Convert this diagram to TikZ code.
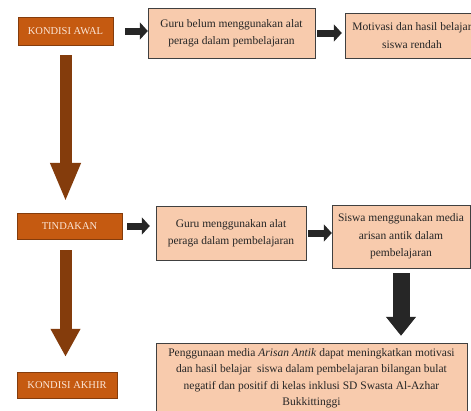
\documentclass[tikz,border=0pt]{standalone}
\usepackage{fontspec}
\setmainfont{Liberation Serif}
\usetikzlibrary{arrows.meta}
\definecolor{kotakoranye}{HTML}{C55A11}
\definecolor{garisoranye}{HTML}{843C0C}
\definecolor{kotakpeach}{HTML}{F8CBAD}
\definecolor{hurufterang}{HTML}{FBE5D6}
\definecolor{panahcoklat}{HTML}{843C0C}
\definecolor{panahhitam}{HTML}{262626}

\begin{document}
\begin{tikzpicture}[x=1pt, y=-1pt,
    kondisi/.style={draw=garisoranye, fill=kotakoranye, text=hurufterang, inner sep=0pt, font=\fontsize{10.5}{12}\selectfont},
    isi/.style={draw=black!75, fill=kotakpeach, text=black!85, align=center, inner sep=0pt, font=\fontsize{11.5}{17.5}\selectfont},
    panah/.style={panahhitam, line width=7pt, -{Triangle[width=17pt,length=8pt]}},
    panahbesar/.style={panahhitam, line width=17pt, -{Triangle[width=29pt,length=19pt]}},
    panahturun/.style={panahcoklat, line width=12pt}]
    \useasboundingbox (0,0) rectangle (471,410);
    \fill [white] (0,0) rectangle (471,410);
    \clip (0,0) rectangle (471,410);
    % baris kondisi awal
        \node [kondisi, minimum width=95pt, minimum height=28pt] (awal) at (65.5,31) {KONDISI AWAL};
        \node [isi, minimum width=167pt, minimum height=50pt] (belum) at (231.5,33) {Guru belum menggunakan alat\\peraga dalam pembelajaran};
        \node [isi, minimum width=134pt, minimum height=45pt] (motivasi) at (412,35.5) {Motivasi dan hasil belajar\\siswa rendah};
    % baris tindakan
        \node [kondisi, minimum width=105pt, minimum height=26pt] (tindakan) at (69.5,226) {TINDAKAN};
        \node [isi, minimum width=150pt, minimum height=54pt] (guru) at (231,233) {Guru menggunakan alat\\peraga dalam pembelajaran};
        \node [isi, minimum width=138pt, minimum height=63pt] (siswa) at (401,236.5) {Siswa menggunakan media\\arisan antik dalam\\pembelajaran};
    % baris kondisi akhir
        \node [kondisi, minimum width=100pt, minimum height=26pt] (akhir) at (67,385) {KONDISI AKHIR};
        \node [isi, minimum width=311pt, minimum height=70pt, font=\fontsize{11.5}{16.5}\selectfont] (hasil) at (311.5,378) {Penggunaan media \textit{Arisan Antik} dapat meningkatkan motivasi\\dan hasil belajar \ siswa dalam pembelajaran bilangan bulat\\negatif dan positif di kelas inklusi SD Swasta Al-Azhar\\Bukkittinggi};
    % panah
        \draw [panah, shorten <=12pt] (awal.east) -- (awal.east -| belum.west);
        \draw [panah, shorten <=2pt, shorten >=3pt] (belum.east) -- (belum.east -| motivasi.west);
        \draw [panah, shorten <=5pt, shorten >=6pt] (tindakan.east) -- (tindakan.east -| guru.west);
        \draw [panah, shorten <=2pt] (guru.east) -- (guru.east -| siswa.west);
        \draw [panahbesar, shorten <=5pt, shorten >=7pt] (siswa.south) -- (siswa.south |- hasil.north);
        \draw [panahturun, -{Triangle[width=28pt,length=39pt]}, shorten <=10pt, shorten >=11pt] (awal.south) -- (awal.south |- tindakan.north);
        \draw [panahturun, -{Triangle[width=28pt,length=28pt]}, shorten <=11pt, shorten >=15pt] (awal.south |- tindakan.south) -- (awal.south |- akhir.north);
    \end{tikzpicture}
\end{document}
